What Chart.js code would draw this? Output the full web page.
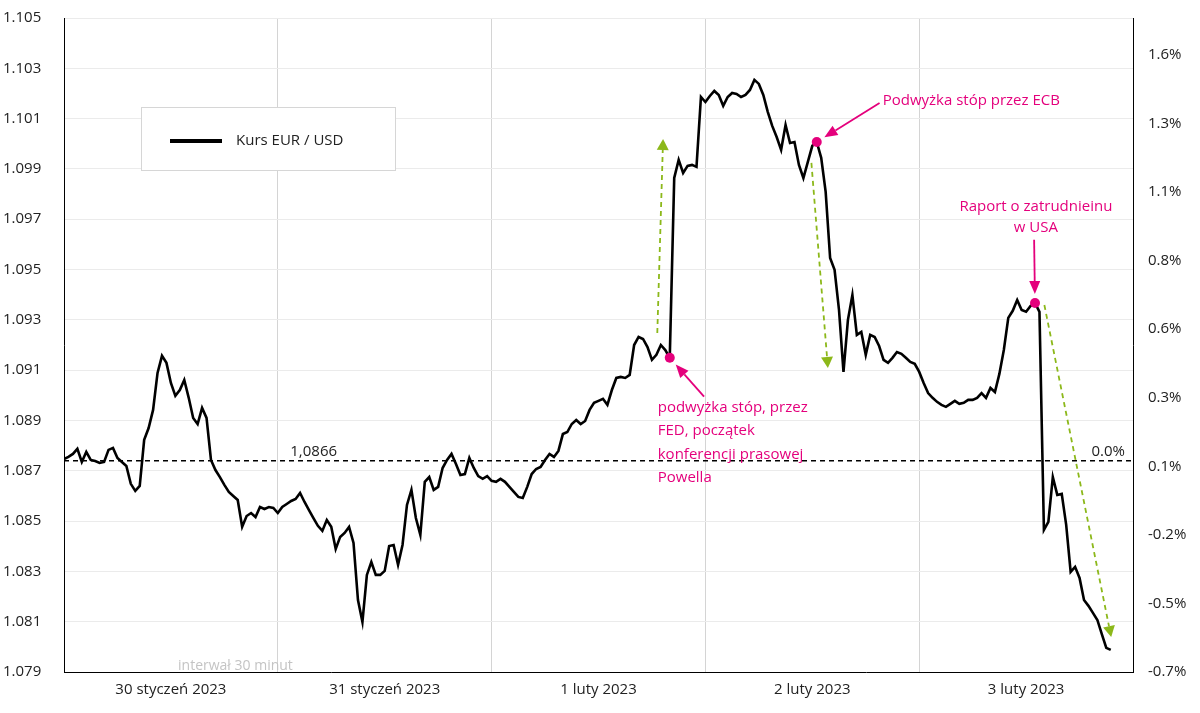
<!DOCTYPE html>
<html>
<head>
<meta charset="utf-8">
<script src="https://cdn.jsdelivr.net/npm/chart.js@4"></script>
<style>
  html, body { margin: 0; padding: 0; background: #fff; }
  #wrap { width: 1200px; height: 713px; }
</style>
</head>
<body>
<div id="wrap"><canvas id="fxChart" width="1200" height="713"></canvas></div>
<script>
// EUR/USD, 30-minute bars, 30 Jan - 3 Feb 2023
const rate = [
  1.08747, 1.08755, 1.08767, 1.08787, 1.08735, 1.08775, 1.08743, 1.08739, 1.08731, 1.08735,
  1.08783, 1.08791, 1.08751, 1.08735, 1.08719, 1.08648, 1.08620, 1.08640, 1.08823, 1.08870,
  1.08942, 1.09089, 1.09157, 1.09129, 1.09049, 1.08998, 1.09021, 1.09061, 1.08990, 1.08910,
  1.08886, 1.08950, 1.08910, 1.08743, 1.08703, 1.08675, 1.08644, 1.08616, 1.08600, 1.08584,
  1.08477, 1.08520, 1.08532, 1.08516, 1.08556, 1.08548, 1.08556, 1.08552, 1.08532, 1.08556,
  1.08568, 1.08580, 1.08588, 1.08612, 1.08576, 1.08544, 1.08512, 1.08481, 1.08461, 1.08504,
  1.08477, 1.08389, 1.08437, 1.08453, 1.08477, 1.08413, 1.08186, 1.08099, 1.08286, 1.08337,
  1.08286, 1.08286, 1.08302, 1.08401, 1.08405, 1.08326, 1.08405, 1.08564, 1.08624, 1.08512,
  1.08445, 1.08656, 1.08675, 1.08624, 1.08636, 1.08711, 1.08743, 1.08767, 1.08727, 1.08683,
  1.08687, 1.08751, 1.08711, 1.08679, 1.08668, 1.08679, 1.08660, 1.08656, 1.08668, 1.08656,
  1.08636, 1.08616, 1.08596, 1.08592, 1.08636, 1.08687, 1.08707, 1.08715, 1.08743, 1.08767,
  1.08755, 1.08779, 1.08846, 1.08854, 1.08886, 1.08902, 1.08886, 1.08898, 1.08942, 1.08970,
  1.08978, 1.08986, 1.08962, 1.09021, 1.09069, 1.09073, 1.09069, 1.09081, 1.09200, 1.09232,
  1.09224, 1.09192, 1.09141, 1.09161, 1.09200, 1.09180, 1.09149, 1.09864, 1.09936, 1.09884,
  1.09912, 1.09916, 1.09908, 1.10186, 1.10166, 1.10190, 1.10210, 1.10194, 1.10151, 1.10186,
  1.10202, 1.10198, 1.10186, 1.10194, 1.10214, 1.10254, 1.10238, 1.10194, 1.10127, 1.10071,
  1.10027, 1.09976, 1.10075, 1.10003, 1.10007, 1.09916, 1.09864, 1.09928, 1.09992, 1.10007,
  1.09944, 1.09809, 1.09546, 1.09499, 1.09339, 1.09093, 1.09300, 1.09399, 1.09240, 1.09252,
  1.09161, 1.09240, 1.09232, 1.09196, 1.09141, 1.09129, 1.09149, 1.09172, 1.09165, 1.09149,
  1.09133, 1.09125, 1.09093, 1.09049, 1.09009, 1.08990, 1.08974, 1.08962, 1.08954, 1.08966,
  1.08978, 1.08966, 1.08970, 1.08982, 1.08982, 1.08990, 1.09009, 1.08990, 1.09029, 1.09013,
  1.09085, 1.09180, 1.09308, 1.09336, 1.09379, 1.09339, 1.09332, 1.09355, 1.09367, 1.09332,
  1.08465, 1.08497, 1.08675, 1.08604, 1.08608, 1.08485, 1.08298, 1.08318, 1.08274, 1.08186,
  1.08163, 1.08135, 1.08107, 1.08051, 1.07996, 1.07988
];

const dayLabels = ['30 styczeń 2023', '31 styczeń 2023', '1 luty 2023', '2 luty 2023', '3 luty 2023'];
const priceTicks = [1.079, 1.081, 1.083, 1.085, 1.087, 1.089, 1.091, 1.093, 1.095, 1.097, 1.099, 1.101, 1.103, 1.105];
const pctTicks = ['-0.7%', '-0.5%', '-0.2%', '0.1%', '0.3%', '0.6%', '0.8%', '1.1%', '1.3%', '1.6%'];
const baseRate = 1.0874;
const slotsPerDay = 48;

// events: index of the bar where the dot sits
const eventIdx = [136, 169, 218];
// green dashed moves [fromIdx, fromRate, toIdx, toRate]
const moves = [
  [133.2, 1.09248, 134.5, 1.10019],
  [167.8, 1.09924, 171.5, 1.09109],
  [220.1, 1.09359, 235.1, 1.08039]
];
// pink callouts [textIdx, textRate, target event]
const callouts = [
  [143.7, 1.08995, 136],
  [183.1, 1.10162, 169],
  [217.8, 1.09618, 218]
];

const PINK = '#e4007c';
const GREEN = '#8cb81a';
const FONT = "'Open Sans', sans-serif";

Chart.defaults.font.family = FONT;
Chart.defaults.font.size = 15;
Chart.defaults.color = '#333';

function drawArrow(ctx, x1, y1, x2, y2, color, dash, headLen, headW, lw) {
  const ang = Math.atan2(y2 - y1, x2 - x1);
  const bx = x2 - Math.cos(ang) * headLen;
  const by = y2 - Math.sin(ang) * headLen;
  ctx.save();
  ctx.strokeStyle = color;
  ctx.fillStyle = color;
  ctx.lineWidth = lw;
  ctx.setLineDash(dash);
  ctx.beginPath();
  ctx.moveTo(x1, y1);
  ctx.lineTo(bx, by);
  ctx.stroke();
  ctx.setLineDash([]);
  ctx.beginPath();
  ctx.moveTo(x2, y2);
  ctx.lineTo(bx + Math.sin(ang) * headW / 2, by - Math.cos(ang) * headW / 2);
  ctx.lineTo(bx - Math.sin(ang) * headW / 2, by + Math.cos(ang) * headW / 2);
  ctx.closePath();
  ctx.fill();
  ctx.restore();
}

const notesPlugin = {
  id: 'notes',
  afterDatasetsDraw(chart) {
    const ctx = chart.ctx;
    const xs = chart.scales.x;
    const ys = chart.scales.y;
    const px = (i) => xs.getPixelForValue(i);
    const py = (v) => ys.getPixelForValue(v);

    // labels on the base line
    const baseY = py(baseRate);
    ctx.save();
    ctx.font = '15px ' + FONT;
    ctx.fillStyle = '#222';
    ctx.textBaseline = 'bottom';
    ctx.textAlign = 'left';
    ctx.fillText('1,0866', px(50.8), baseY - 1);
    ctx.textAlign = 'right';
    ctx.fillText('0.0%', px(238.2), baseY - 1);

    ctx.fillStyle = '#c4c4c4';
    ctx.font = '14px ' + FONT;
    ctx.textAlign = 'left';
    ctx.textBaseline = 'middle';
    ctx.fillText('interwał 30 minut', px(25.6), py(1.07924));
    ctx.restore();

    // green dashed arrows
    moves.forEach(m => {
      drawArrow(ctx, px(m[0]), py(m[1]), px(m[2]), py(m[3]), GREEN, [5, 4], 11, 12, 1.8);
    });

    // pink callout arrows
    callouts.forEach(c => {
      const tx = px(c[2]), ty = py(rate[c[2]]);
      const sx = px(c[0]), sy = py(c[1]);
      const d = Math.hypot(tx - sx, ty - sy);
      const gap = 9;
      const ex = tx + (sx - tx) * gap / d;
      const ey = ty + (sy - ty) * gap / d;
      drawArrow(ctx, sx, sy, ex, ey, PINK, [], 13, 11, 1.8);
    });

    // event dots
    ctx.save();
    ctx.fillStyle = PINK;
    eventIdx.forEach(i => {
      ctx.beginPath();
      ctx.arc(px(i), py(rate[i]), 5, 0, Math.PI * 2);
      ctx.fill();
    });

    // callout texts
    ctx.font = '15px ' + FONT;
    ctx.textBaseline = 'middle';
    ctx.textAlign = 'left';
    const fedLines = ['podwyżka stóp, przez', 'FED, początek', 'konferencji prasowej', 'Powella'];
    fedLines.forEach((t, k) => ctx.fillText(t, px(133.3), py(1.08951) + k * 23.5));
    ctx.fillText('Podwyżka stóp przez ECB', px(183.8), py(1.10171));
    ctx.textAlign = 'center';
    ctx.fillText('Raport o zatrudnieinu', px(218.2), py(1.09749));
    ctx.fillText('w USA', px(218.2), py(1.09749) + 21);
    ctx.restore();

    // legend box
    ctx.save();
    ctx.fillStyle = '#fff';
    ctx.fillRect(141, 107, 254, 63);
    ctx.strokeStyle = '#d6d6d6';
    ctx.lineWidth = 1;
    ctx.strokeRect(141.5, 107.5, 254, 63);
    ctx.strokeStyle = '#000';
    ctx.lineWidth = 4;
    ctx.beginPath();
    ctx.moveTo(170, 141);
    ctx.lineTo(222, 141);
    ctx.stroke();
    ctx.fillStyle = '#222';
    ctx.font = '15px ' + FONT;
    ctx.textBaseline = 'middle';
    ctx.fillText('Kurs EUR / USD', 236, 141);
    ctx.restore();
  }
};

const ctx = document.getElementById('fxChart').getContext('2d');
new Chart(ctx, {
  type: 'line',
  data: {
    datasets: [
      {
        label: 'Kurs EUR / USD',
        data: rate.map((v, i) => ({ x: i, y: v })),
        borderColor: '#000',
        borderWidth: 2.6,
        pointRadius: 0,
        tension: 0,
        order: 0
      },
      {
        label: 'base',
        data: [{ x: 0, y: baseRate }, { x: slotsPerDay * dayLabels.length, y: baseRate }],
        borderColor: '#000',
        borderWidth: 1.5,
        borderDash: [5, 4],
        pointRadius: 0,
        order: 1
      }
    ]
  },
  options: {
    responsive: false,
    animation: false,
    devicePixelRatio: 1,
    layout: { padding: { top: 18, left: 3, right: 0, bottom: 0 } },
    plugins: {
      legend: { display: false },
      tooltip: { enabled: false }
    },
    scales: {
      x: {
        type: 'linear',
        min: 0,
        max: slotsPerDay * dayLabels.length,
        afterBuildTicks: (scale) => {
          const t = [];
          for (let k = 0; k <= dayLabels.length * 2; k++) t.push({ value: k * slotsPerDay / 2 });
          scale.ticks = t;
        },
        afterFit: (scale) => { scale.height = 41; },
        ticks: {
          autoSkip: false,
          maxRotation: 0,
          padding: 9,
          color: '#222',
          callback: (v) => (v % slotsPerDay === slotsPerDay / 2) ? dayLabels[Math.floor(v / slotsPerDay)] : ''
        },
        grid: {
          drawTicks: false,
          color: (c) => (c.tick && c.tick.value % slotsPerDay === 0) ? '#d4d4d4' : 'rgba(0,0,0,0)',
          lineWidth: 1
        },
        border: { display: true, color: '#000', width: 1 }
      },
      y: {
        position: 'left',
        min: priceTicks[0],
        max: priceTicks[priceTicks.length - 1],
        afterBuildTicks: (scale) => { scale.ticks = priceTicks.map(v => ({ value: v })); },
        afterFit: (scale) => { scale.width = 61; },
        ticks: {
          padding: 6,
          crossAlign: 'far',
          color: '#222',
          callback: (v) => Number(v).toFixed(3)
        },
        grid: { drawTicks: false, color: '#ebebeb', lineWidth: 1 },
        border: { display: true, color: '#000', width: 1 }
      },
      y2: {
        position: 'right',
        min: 0,
        max: 9.54,
        afterBuildTicks: (scale) => { scale.ticks = pctTicks.map((_, k) => ({ value: k })); },
        afterFit: (scale) => { scale.width = 67; },
        ticks: {
          padding: 15,
          color: '#222',
          font: { size: 15, lineHeight: 0.1 },
          callback: (v) => pctTicks[v]
        },
        grid: { display: false, drawTicks: false },
        border: { display: true, color: '#000', width: 1 }
      }
    }
  },
  plugins: [notesPlugin]
});
</script>
</body>
</html>
